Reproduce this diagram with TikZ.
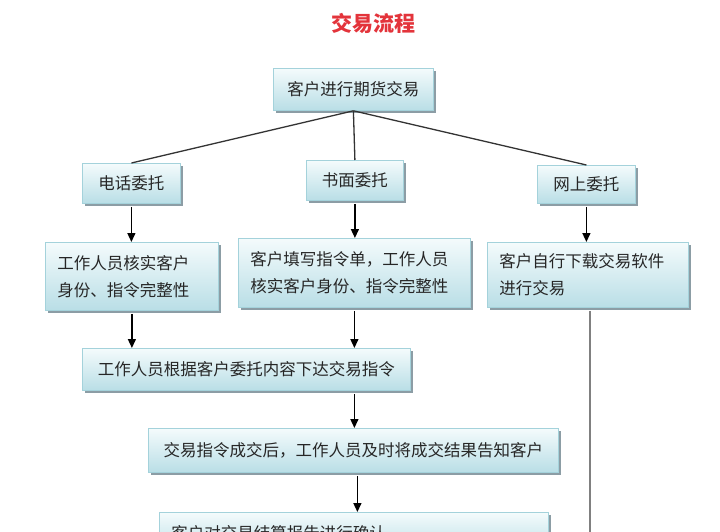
\documentclass[tikz,border=0pt]{standalone}
\usepackage{fontspec}
\setmainfont{Noto Sans CJK SC}
\usetikzlibrary{shadows,arrows.meta,calc}
\definecolor{boxline}{HTML}{A4D2DB}
\definecolor{boxtop}{HTML}{F4FBFC}
\definecolor{boxbot}{HTML}{B9DEE6}
\definecolor{shadowc}{HTML}{8C9DA5}
\definecolor{txt}{HTML}{262626}
\definecolor{titlered}{HTML}{E3343B}
\tikzset{
  box/.style={draw=boxline, line width=0.8pt, top color=boxtop, bottom color=boxbot,
    drop shadow={shadow xshift=3pt, shadow yshift=-3pt, fill=shadowc, opacity=1},
    anchor=north west, inner xsep=12pt, inner ysep=0pt, text=txt,
    font=\fontsize{16.5}{27}\selectfont},
  arr/.style={-{Triangle[length=9pt,width=8pt]}, line width=1.4pt, black},
  branch/.style={line width=1.3pt, black!80},
  grayline/.style={line width=2pt, black!50},
}
\begin{document}
\begin{tikzpicture}[x=1pt,y=-1pt]
\useasboundingbox (0,0) rectangle (720,532);
\clip (0,0) rectangle (720,532);
\node[font=\fontsize{21}{24}\bfseries\selectfont, text=titlered] (title) at (373,23) {交易流程};
\node[box, minimum width=160, minimum height=42] (top) at (273,68) {客户进行期货交易};
\node[box, minimum width=98, minimum height=40] (phone) at (82,163) {电话委托};
\node[box, minimum width=97, minimum height=40] (written) at (306,160) {书面委托};
\node[box, minimum width=98, minimum height=38] (online) at (537,165) {网上委托};
\node[box, minimum width=173, minimum height=68, text width=149, align=left] (verify) at (45,242) {工作人员核实客户\\身份、指令完整性};
\node[box, minimum width=232, minimum height=69, text width=208, align=left] (fill) at (238,238) {客户填写指令单，工作人员\\核实客户身份、指令完整性};
\node[box, minimum width=201, minimum height=65, text width=177, align=left] (soft) at (487,242) {客户自行下载交易软件\\进行交易};
\node[box, minimum width=328, minimum height=42] (instr) at (82,348) {工作人员根据客户委托内容下达交易指令};
\node[box, minimum width=410, minimum height=44] (done) at (148,428) {交易指令成交后，工作人员及时将成交结果告知客户};
\node[box, minimum width=389, minimum height=42, text width=365, align=left] (confirm) at (159,512) {客户对交易结算报告进行确认};
\coordinate (bottomend) at (590,540);
\draw[branch] (top.south) -- (phone.north);
\draw[branch] (top.south) -- (written.north);
\draw[branch] (top.south) -- (online.north);
\draw[arr] ([yshift=-3pt]phone.south) -- (phone.south |- verify.north);
\draw[arr] ([yshift=-3pt]written.south) -- (written.south |- fill.north);
\draw[arr] ([yshift=-3pt]online.south) -- (online.south |- soft.north);
\draw[arr] ([yshift=-3pt]verify.south) -- (verify.south |- instr.north);
\draw[arr] ([yshift=-3pt]fill.south) -- (fill.south |- instr.north);
\draw[arr] ([yshift=-3pt]instr.south -| fill.south) -- (done.north -| fill.south);
\draw[arr] ([yshift=-3pt,xshift=4pt]done.south) -- ([xshift=4pt]done.south |- confirm.north);
\draw[grayline] ([yshift=-3pt]soft.south -| bottomend) -- (bottomend);
\end{tikzpicture}
\end{document}
